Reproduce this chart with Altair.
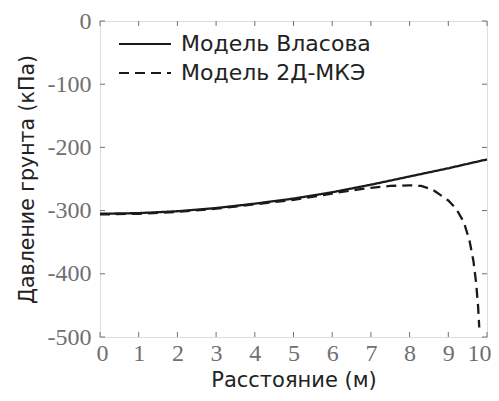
import altair as alt
import pandas as pd

series_names = ["Модель Власова", "Модель 2Д-МКЭ"]

vlasov_x = [0, 1, 2, 3, 4, 5, 6, 7, 8, 9, 10]
vlasov_y = [-305, -304, -301, -296, -289, -281, -271, -259, -246, -233, -219]

fem_x = [0, 1, 2, 3, 4, 5, 6, 6.5, 7, 7.5, 8, 8.3, 8.6, 9.0, 9.2, 9.4, 9.55, 9.65, 9.72, 9.77, 9.8]
fem_y = [-306, -305, -302, -297, -290, -283, -273, -268, -264, -261, -260, -261, -267, -284, -297, -318, -348, -380, -415, -452, -485]

x_ticks = [0, 1, 2, 3, 4, 5, 6, 7, 8, 9, 10]
y_ticks = [0, -100, -200, -300, -400, -500]

W, H, TL = 387, 316, 5

rows = []
for xv, yv in zip(vlasov_x, vlasov_y):
    rows.append({"x": xv, "y": yv, "s": series_names[0], "o": 0})
for xv, yv in zip(fem_x, fem_y):
    rows.append({"x": xv, "y": yv, "s": series_names[1], "o": 1})
df = pd.DataFrame(rows)
xt = pd.DataFrame({"x": x_ticks})
yt = pd.DataFrame({"y": y_ticks})

TICK_FONT = "Liberation Serif"
TXT_FONT = "DejaVu Sans"
GRAY = "#707070"
TICK_GRAY = "#707070"

xscale = alt.Scale(domain=[0, 10], nice=False, zero=False)
yscale = alt.Scale(domain=[-500, 0], nice=False, zero=False)

xaxis = alt.Axis(orient="bottom", values=x_ticks, ticks=False,
                 domain=False, grid=False, labelFont=TICK_FONT,
                 labelFontSize=24, labelFlush=True, labelFlushOffset=4, labelOverlap=False,
                 labelColor=GRAY, labelPadding=4,
                 labelExpr="'' + datum.value",
                 title="Расстояние (м)", titleFont=TXT_FONT, titleFontSize=21,
                 titleFontWeight="normal", titleColor="#222222", titlePadding=4)
yaxis = alt.Axis(orient="left", values=y_ticks, ticks=False,
                 domain=False, grid=False, labelFont=TICK_FONT,
                 labelFontSize=24, labelFlush=False, labelOverlap=False,
                 labelColor=GRAY, labelPadding=9,
                 labelExpr="'' + datum.value",
                 title="Давление грунта (кПа)", titleFont=TXT_FONT, titleFontSize=20.5,
                 titleFontWeight="normal", titleColor="#222222", titlePadding=10)

lines = alt.Chart(df).mark_line(color="#1a1a1a", strokeWidth=2.3).encode(
    x=alt.X("x:Q", scale=xscale, axis=xaxis),
    y=alt.Y("y:Q", scale=yscale, axis=yaxis),
    strokeDash=alt.StrokeDash("s:N", scale=alt.Scale(domain=series_names, range=[[1, 0], [10, 6]]),
                              legend=alt.Legend(title=None, orient="none", legendX=31, legendY=9,
                                                symbolType="M-2,0H2", symbolSize=676,
                                                symbolStrokeWidth=2, symbolStrokeColor="#1a1a1a",
                                                labelFont=TXT_FONT, labelFontSize=22,
                                                labelLimit=400,
                                                labelColor="#222222", labelOffset=22,
                                                rowPadding=4)),
    order="o:Q",
)

rule_style = dict(color=TICK_GRAY, strokeWidth=1)
tick_x_bottom = alt.Chart(xt).mark_rule(**rule_style).encode(
    x=alt.X("x:Q", scale=xscale, axis=xaxis), y=alt.value(H - TL), y2=alt.value(H))
tick_x_top = alt.Chart(xt).mark_rule(**rule_style).encode(
    x=alt.X("x:Q", scale=xscale, axis=xaxis), y=alt.value(0), y2=alt.value(TL))
tick_y_left = alt.Chart(yt).mark_rule(**rule_style).encode(
    y=alt.Y("y:Q", scale=yscale, axis=yaxis), x=alt.value(0), x2=alt.value(TL))
tick_y_right = alt.Chart(yt).mark_rule(**rule_style).encode(
    y=alt.Y("y:Q", scale=yscale, axis=yaxis), x=alt.value(W - TL), x2=alt.value(W))

chart = alt.layer(lines, tick_x_bottom, tick_x_top, tick_y_left, tick_y_right).properties(
    width=W, height=H,
    autosize=alt.AutoSizeParams(type="none"),
    padding={"left": 92, "top": 13, "right": 4, "bottom": 56},
).configure_view(stroke="#999999", strokeWidth=1).configure(background="white")

chart.save("out.html", embed_options={"renderer": "svg", "actions": False})
